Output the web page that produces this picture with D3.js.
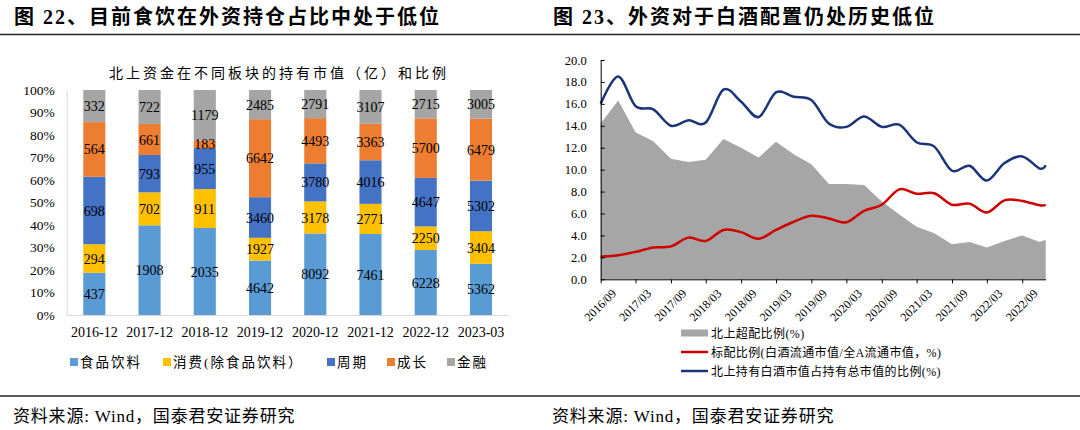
<!DOCTYPE html>
<html>
<head>
<meta charset="utf-8">
<script src="https://cdn.jsdelivr.net/npm/d3@7"></script>
<style>
  body { margin: 0; background: #fff; }
  text { font-family: "Liberation Serif", "Noto Sans CJK SC", serif; }
</style>
</head>
<body>
<div id="chart"></div>
<script>
// left chart: holdings by sector (100 million yuan)
const periods = ["2016-12", "2017-12", "2018-12", "2019-12", "2020-12", "2021-12", "2022-12", "2023-03"];
const food = [437, 1908, 2035, 4642, 8092, 7461, 6228, 5362];
const consumer = [294, 702, 911, 1927, 3178, 2771, 2250, 3404];
const cyclical = [698, 793, 955, 3460, 3780, 4016, 4647, 5302];
const growth = [564, 661, 183, 6642, 4493, 3363, 5700, 6479];
const finance = [332, 722, 1179, 2485, 2791, 3107, 2715, 3005];
const sectorNames = ["食品饮料", "消费(除食品饮料）", "周期", "成长", "金融"];

// right chart: baijiu allocation (%)
const quarters = ["2016/09", "2016/12", "2017/03", "2017/06", "2017/09", "2017/12", "2018/03", "2018/06",
  "2018/09", "2018/12", "2019/03", "2019/06", "2019/09", "2019/12", "2020/03", "2020/06", "2020/09",
  "2020/12", "2021/03", "2021/06", "2021/09", "2021/12", "2022/03", "2022/06", "2022/09", "2022/12", "2023/01"];
const overweight = [14.2, 16.3, 13.4, 12.6, 11.0, 10.7, 10.9, 12.8, 12.0, 11.1, 12.55, 11.4, 10.5, 8.7,
  8.7, 8.6, 7.1, 5.9, 4.8, 4.2, 3.2, 3.4, 2.9, 3.5, 4.0, 3.4, 3.6];
const benchmark = [2.06, 2.2, 2.5, 2.9, 3.0, 3.8, 3.5, 4.5, 4.3, 3.7, 4.5, 5.25, 5.8, 5.55, 5.2, 6.25,
  6.8, 8.2, 7.8, 7.85, 6.8, 6.9, 6.1, 7.2, 7.15, 6.75, 6.8];
const northShare = [16.0, 18.5, 15.8, 15.5, 14.0, 14.5, 14.3, 17.3, 16.2, 14.8, 17.05, 16.65, 16.35, 14.2,
  13.9, 14.85, 13.9, 14.1, 12.5, 12.1, 9.9, 10.35, 9.0, 10.6, 11.2, 10.1, 10.4];
const dateTicks = ["2016/09", "2017/03", "2017/09", "2018/03", "2018/09", "2019/03", "2019/09", "2020/03",
  "2020/09", "2021/03", "2021/09", "2022/03", "2022/09"];
const lineNames = ["北上超配比例(%)", "标配比例(白酒流通市值/全A流通市值，%)", "北上持有白酒市值占持有总市值的比例(%)"];

const W = 1080, H = 430;
const svg = d3.select("#chart").append("svg")
  .attr("width", W).attr("height", H);

// page furniture
svg.append("text").attr("x", 14).attr("y", 24)
  .attr("font-size", 20).attr("font-weight", "bold").attr("letter-spacing", 2)
  .text("图 22、目前食饮在外资持仓占比中处于低位");
svg.append("text").attr("x", 553).attr("y", 24)
  .attr("font-size", 20).attr("font-weight", "bold").attr("letter-spacing", 2)
  .text("图 23、外资对于白酒配置仍处历史低位");
svg.append("line").attr("x1", 0).attr("x2", W).attr("y1", 34.5).attr("y2", 34.5)
  .attr("stroke", "#222").attr("stroke-width", 1.5);
svg.append("line").attr("x1", 0).attr("x2", W).attr("y1", 396).attr("y2", 396)
  .attr("stroke", "#222").attr("stroke-width", 1.5);
[13, 552].forEach(sx => {
  svg.append("text").attr("x", sx).attr("y", 422).attr("font-size", 17).attr("letter-spacing", 0.8)
    .text("资料来源: Wind，国泰君安证券研究");
});

// ---------- left chart ----------
const colors = ["#5B9BD5", "#FFC000", "#4472C4", "#ED7D31", "#A5A5A5"];
const keys = ["food", "consumer", "cyclical", "growth", "finance"];
const rows = periods.map((p, i) => ({
  period: p, food: food[i], consumer: consumer[i], cyclical: cyclical[i], growth: growth[i], finance: finance[i]
}));
const series = d3.stack().keys(keys).offset(d3.stackOffsetExpand)(rows);

const x1 = d3.scaleBand().domain(periods).range([66.7, 508.6]).paddingInner(0.6).paddingOuter(0.3);
const y1 = d3.scaleLinear().domain([0, 1]).range([315, 90]);

svg.append("text").attr("x", 279).attr("y", 78).attr("text-anchor", "middle")
  .attr("font-size", 14).attr("letter-spacing", 3)
  .text("北上资金在不同板块的持有市值（亿）和比例");

const yAx1 = svg.append("g").attr("transform", "translate(66.7,0)")
  .call(d3.axisLeft(y1).ticks(10).tickFormat(d3.format(".0%")).tickSize(0).tickPadding(12));
yAx1.select(".domain").attr("stroke", "#D9D9D9");
yAx1.selectAll("text").attr("font-size", 13.5).attr("fill", "#000")
  .attr("font-family", "Liberation Serif");

const xAx1 = svg.append("g").attr("transform", "translate(0,315)")
  .call(d3.axisBottom(x1).tickSize(0).tickPadding(12));
xAx1.select(".domain").attr("stroke", "#D9D9D9");
xAx1.selectAll("text").attr("font-size", 14).attr("fill", "#000")
  .attr("font-family", "Liberation Serif");

const layer = svg.append("g").selectAll("g").data(series).join("g")
  .attr("fill", (d, i) => colors[i]);
layer.selectAll("rect").data(d => d).join("rect")
  .attr("x", d => x1(d.data.period))
  .attr("width", x1.bandwidth())
  .attr("y", d => y1(d[1]))
  .attr("height", d => y1(d[0]) - y1(d[1]));

svg.append("g").selectAll("g").data(series).join("g")
  .selectAll("text").data(d => d.map(v => ({ v, key: d.key }))).join("text")
  .attr("x", d => x1(d.v.data.period) + x1.bandwidth() / 2)
  .attr("y", d => (y1(d.v[0]) + y1(d.v[1])) / 2)
  .attr("dy", "0.36em")
  .attr("text-anchor", "middle")
  .attr("font-size", 14)
  .text(d => d.v.data[d.key]);

const legX = [70, 163, 327, 387, 447];
const leg1 = svg.append("g").selectAll("g").data(sectorNames).join("g")
  .attr("transform", (d, i) => `translate(${legX[i]},362)`);
leg1.append("rect").attr("x", 0).attr("y", -4).attr("width", 8).attr("height", 8)
  .attr("fill", (d, i) => colors[i]);
leg1.append("text").attr("x", 10).attr("y", 5).attr("font-size", 13.5)
  .attr("letter-spacing", 2).text(d => d);

// ---------- right chart ----------
const parse = d3.timeParse("%Y/%m");
const dates = quarters.map(parse);
const x2 = d3.scaleTime().domain(d3.extent(dates)).range([600.7, 1045.7]);
const y2 = d3.scaleLinear().domain([0, 20]).range([279.3, 60]);

svg.append("path").datum(overweight)
  .attr("fill", "#A6A6A6")
  .attr("d", d3.area().x((d, i) => x2(dates[i])).y0(y2(0)).y1(d => y2(d)));

const smooth = d3.line().x((d, i) => x2(dates[i])).y(d => y2(d)).curve(d3.curveCardinal.tension(0));
svg.append("path").datum(benchmark).attr("fill", "none")
  .attr("stroke", "#D00000").attr("stroke-width", 2.5).attr("d", smooth);
svg.append("path").datum(northShare).attr("fill", "none")
  .attr("stroke", "#1B3479").attr("stroke-width", 2.5).attr("d", smooth);

const yAx2 = svg.append("g").attr("transform", "translate(600.7,0)")
  .call(d3.axisLeft(y2).ticks(10).tickFormat(d3.format(".1f")).tickSizeInner(-4).tickSizeOuter(0).tickPadding(14));
yAx2.selectAll("text").attr("font-size", 12.5).attr("fill", "#000")
  .attr("font-family", "Liberation Serif");

const xAx2 = svg.append("g").attr("transform", `translate(0,${y2(0)})`)
  .call(d3.axisBottom(x2).tickValues(dateTicks.map(parse)).tickFormat(d3.timeFormat("%Y/%m"))
    .tickSizeInner(4).tickSizeOuter(0));
xAx2.selectAll("text").attr("font-size", 12).attr("fill", "#000")
  .attr("font-family", "Liberation Serif")
  .attr("text-anchor", "end")
  .attr("transform", "translate(5,4) rotate(-45)")
  .attr("dy", "0.7em");

const leg2 = svg.append("g").selectAll("g").data(lineNames).join("g")
  .attr("transform", (d, i) => `translate(681,${333 + i * 19})`);
leg2.each(function(d, i) {
  const g = d3.select(this);
  if (i === 0) {
    g.append("rect").attr("x", 0).attr("y", -3.5).attr("width", 27).attr("height", 7).attr("fill", "#A6A6A6");
  } else {
    g.append("line").attr("x1", 0).attr("x2", 27).attr("y1", 0).attr("y2", 0)
      .attr("stroke", i === 1 ? "#D00000" : "#1B3479").attr("stroke-width", 2.5);
  }
});
leg2.append("text").attr("x", 30).attr("y", 4.5).attr("font-size", 12)
  .attr("letter-spacing", 0.4).text(d => d);
</script>
</body>
</html>
